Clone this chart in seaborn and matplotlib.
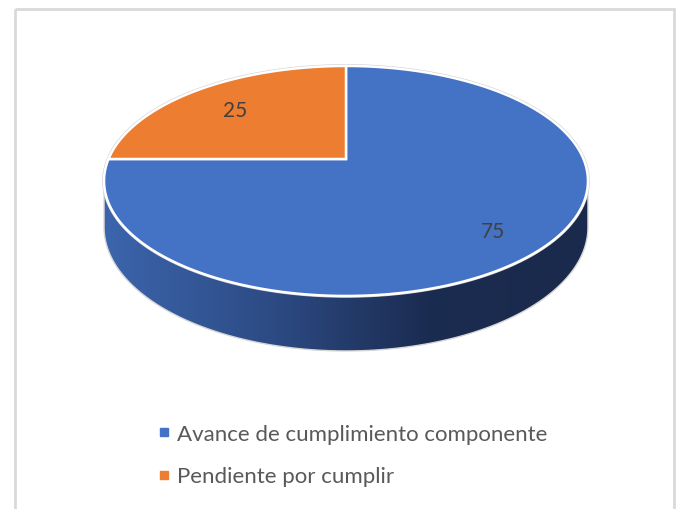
import numpy as np
import matplotlib
matplotlib.use("Agg")
import matplotlib.pyplot as plt
import seaborn as sns
from matplotlib.patches import Polygon, Rectangle
from matplotlib.lines import Line2D
from matplotlib.colors import LinearSegmentedColormap

categories = ["Avance de cumplimiento componente", "Pendiente por cumplir"]
values = [75, 25]
colors = ["#4472C4", "#ED7D31"]

sns.set_theme(style="white")
plt.rcParams["font.family"] = ["Lato", "DejaVu Sans"]

W, H = 678, 510
fig = plt.figure(figsize=(W / 100, H / 100), dpi=100)
fig.patch.set_facecolor("white")
ax = fig.add_axes([0, 0, 1, 1])

wedges, texts, autotexts = ax.pie(
    values, colors=colors, startangle=90, counterclock=False,
    autopct=lambda p: f"{p * sum(values) / 100:.0f}", pctdistance=0.76,
)

# perspective projection of the unit pie onto the tilted disc (pixel coords)
CX, CY = 346.0, 160.0
RX, RY, K, TH = 237.5, 110.8, 0.191, 44.5


def proj(u, v, drop=0.0):
    w = 1.0 + K * v
    return CX + RX * u / w, CY - RY * v / w + drop / w


def dense(path):
    pts = []
    for bez, code in path.iter_bezier():
        if bez.degree <= 1:
            pts.append(bez(np.linspace(0, 1, 2)))
        else:
            pts.append(bez(np.linspace(0, 1, 40)))
    return np.vstack(pts)


# side wall
phi0 = np.pi + np.arcsin(K)
phi1 = 2 * np.pi - np.arcsin(K)
phis = np.linspace(phi0, phi1, 300)
tx, ty = proj(np.cos(phis), np.sin(phis))
bx, by = proj(np.cos(phis[::-1]), np.sin(phis[::-1]), TH)
side_xy = np.column_stack([np.r_[tx, bx], np.r_[ty, by]])
side = Polygon(side_xy, closed=True, facecolor="none", edgecolor="#d6d6d6", lw=1.0, zorder=1)
ax.add_patch(side)
cmap = LinearSegmentedColormap.from_list("side", ["#3C65AD", "#2D4C86", "#1B2C51", "#1A2A4C"])
grad = np.linspace(0, 1, 256).reshape(1, -1)
im = ax.imshow(grad, cmap=cmap, extent=[tx.min(), tx.max(), by.max() + 2, ty.min() - 2],
               aspect="auto", zorder=0.9, interpolation="bilinear")
im.set_clip_path(side)

# faint outline of top ellipse
ph = np.linspace(0, 2 * np.pi, 400)
ex, ey = proj(np.cos(ph), np.sin(ph))
ax.plot(ex, ey, color="#cfcfcf", lw=2.6, zorder=1.5)

# top face: re-project each wedge drawn by ax.pie
for wdg in wedges:
    pg = dense(wdg.get_path())
    fc = wdg.get_facecolor()
    wdg.remove()
    px, py = proj(pg[:, 0], pg[:, 1])
    ax.add_patch(Polygon(np.column_stack([px, py]), closed=True, facecolor=fc,
                         edgecolor="white", lw=1.8, joinstyle="miter", zorder=2))

for t in autotexts:
    x, y = t.get_position()
    px, py = proj(x, y, drop=TH * 0.12)
    t.set_position((px + 5, py))
    t.set_color("#404040")
    t.set_fontsize(15)
    t.set_zorder(5)
for t in texts:
    t.set_visible(False)

ax.set_aspect("auto")
ax.set_xlim(0, W)
ax.set_ylim(H, 0)
ax.axis("off")

# chart frame
ax.add_patch(Rectangle((15, 10), 659, 510, facecolor="none", edgecolor="#d9d9d9", lw=2, zorder=0.5))

handles = [Line2D([], [], marker="s", linestyle="none", markersize=6,
                  markerfacecolor=c, markeredgecolor=c) for c in colors]
leg = ax.legend(handles, categories, loc="upper left", bbox_to_anchor=(146 / W, 1 - 414 / H),
                bbox_transform=fig.transFigure, frameon=False, fontsize=16,
                handlelength=0.6, handletextpad=0.3, labelspacing=1.0, borderpad=0)
for t in leg.get_texts():
    t.set_color("#595959")

fig.savefig("out.png", dpi=100, facecolor="white")
